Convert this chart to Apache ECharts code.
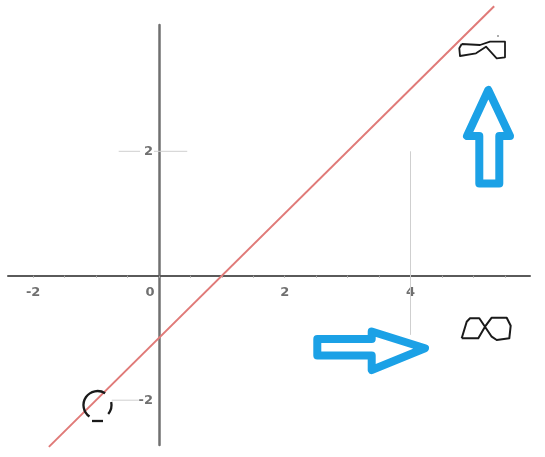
<!DOCTYPE html>
<html>
<head>
<meta charset="utf-8">
<script src="https://cdn.jsdelivr.net/npm/echarts@6/dist/echarts.min.js"></script>
<style>html,body{margin:0;padding:0;background:#fff}#c{width:545px;height:457px}</style>
</head>
<body>
<div id="c"></div>
<script>
// Data
const xTickValues = [-2, 0, 2, 4];
const yTickValues = [-2, 2];
const xMinorTicks = [-2, -1.5, -1, -0.5, 0, 0.5, 1, 1.5, 2, 2.5, 3, 3.5, 4, 4.5, 5, 5.5];
const lineX = [-1.75, 5.33];        // red line y = x - 1
const lineY = [-2.75, 4.33];
const guideY2X = [[-0.64, -0.3], [-0.08, 0.45]]; // short guide at y = 2
const guideY2Y = 2;
const guideX4Y = [-0.95, 2];       // vertical guide at x = 4
const guideX4X = 4;
const guideYm2X = [-0.75, -0.32];  // short guide at y = -2
const guideYm2Y = -2;

const X_MIN = -2.4, X_MAX = 5.9, Y_MIN = -2.72, Y_MAX = 4.03;
const W = 545, H = 457;
const G = {left: 8, right: 15, top: 25, bottom: 12};
const gridW = W - G.left - G.right, gridH = H - G.top - G.bottom;
// place axes through the origin
const xAxisOffset = -gridH * (0 - Y_MIN) / (Y_MAX - Y_MIN);
const yAxisOffset = -gridW * (0 - X_MIN) / (X_MAX - X_MIN);

const chart = echarts.init(document.getElementById('c'), null, {renderer: 'canvas'});

const guideStyle = {color: '#cfcfcf', width: 1};
const series = [];
guideY2X.forEach(seg => series.push({
  type: 'line', data: seg.map(x => [x, guideY2Y]), showSymbol: false, silent: true,
  lineStyle: guideStyle, z: 1
}));
series.push({
  type: 'line', data: guideX4Y.map(y => [guideX4X, y]), showSymbol: false, silent: true,
  lineStyle: guideStyle, z: 1
});
series.push({
  type: 'line', data: guideYm2X.map(x => [x, guideYm2Y]), showSymbol: false, silent: true,
  lineStyle: guideStyle, z: 1
});
series.push({
  type: 'line', data: lineX.map((x, i) => [x, lineY[i]]), showSymbol: false, clip: false,
  lineStyle: {color: '#e07a78', width: 2}, z: 3
});

const black = '#1a1a1a';
const blue = '#1ba1e6';
const labelFont = {color: '#707070', fontSize: 13, fontWeight: 'bold', fontFamily: 'DejaVu Sans'};

chart.setOption({
  animation: false,
  grid: {left: G.left, right: G.right, top: G.top, bottom: G.bottom, containLabel: false, outerBoundsMode: 'none'},
  xAxis: {
    type: 'value', min: X_MIN, max: X_MAX, position: 'bottom', offset: xAxisOffset,
    axisLine: {onZero: false, lineStyle: {color: '#5a5a5a', width: 2}},
    axisTick: {show: true, customValues: xMinorTicks, length: 2, lineStyle: {color: '#aaa', width: 1}},
    splitLine: {show: false},
    axisLabel: Object.assign({
      customValues: xTickValues, margin: 10,
      formatter: v => v === 0 ? '{z|0}' : String(v),
      rich: {z: Object.assign({padding: [0, 18, 0, 0]}, labelFont)}
    }, labelFont)
  },
  yAxis: {
    type: 'value', min: Y_MIN, max: Y_MAX, position: 'left', offset: yAxisOffset,
    axisLine: {onZero: false, lineStyle: {color: '#707070', width: 2.5}},
    axisTick: {show: false},
    splitLine: {show: false},
    axisLabel: Object.assign({customValues: yTickValues, margin: 6}, labelFont)
  },
  series: series,
  graphic: [
    // top infinity sketch
    {type: 'polyline', z: 10, shape: {points: [[461.7,44],[480,45],[490,41.7],[505,41.7],[505,57.3],[496.7,58.3],[486,46.7],[476,53.3],[460,56],[459.3,48.3],[461.7,44]]},
     style: {stroke: black, lineWidth: 1.8, fill: null, lineJoin: 'round'}},
    {type: 'circle', z: 10, shape: {cx: 498, cy: 36, r: 0.8}, style: {fill: '#444'}},
    // up arrow
    {type: 'polygon', z: 10, shape: {points: [[488.3,90],[467,136],[479.3,136],[479.3,183.5],[499.3,183.5],[499.3,136],[510,136]]},
     style: {stroke: blue, lineWidth: 8, fill: null, lineJoin: 'round'}},
    // right arrow
    {type: 'polygon', z: 10, shape: {points: [[317.3,339],[371.7,339],[371.7,331.5],[425,348.3],[371.7,370],[371.7,355.5],[317.3,355.5]]},
     style: {stroke: blue, lineWidth: 8, fill: null, lineJoin: 'round'}},
    // bottom infinity sketch
    {type: 'polyline', z: 10, shape: {points: [[461.7,338.3],[466.7,321.7],[470,318.3],[479.3,318.3],[485,326.7],[491.7,336.7],[496.7,340],[509.3,338.3],[510.7,325.7],[506.7,317.7],[491.7,317.7],[485,326.7],[478.3,338.3],[461.7,338.3]]},
     style: {stroke: black, lineWidth: 2, fill: null, lineJoin: 'round'}},
    // open circle sketch
    {type: 'arc', z: 10, shape: {cx: 97.5, cy: 405, r: 14, startAngle: 125 * Math.PI / 180, endAngle: 303 * Math.PI / 180, clockwise: true},
     style: {stroke: black, lineWidth: 2.3, fill: null}},
    {type: 'arc', z: 10, shape: {cx: 97.5, cy: 405, r: 14, startAngle: -12 * Math.PI / 180, endAngle: 40 * Math.PI / 180, clockwise: true},
     style: {stroke: black, lineWidth: 2.3, fill: null}},
    {type: 'line', z: 10, shape: {x1: 92, y1: 421, x2: 103, y2: 421}, style: {stroke: black, lineWidth: 2.3}}
  ]
});
</script>
</body>
</html>
